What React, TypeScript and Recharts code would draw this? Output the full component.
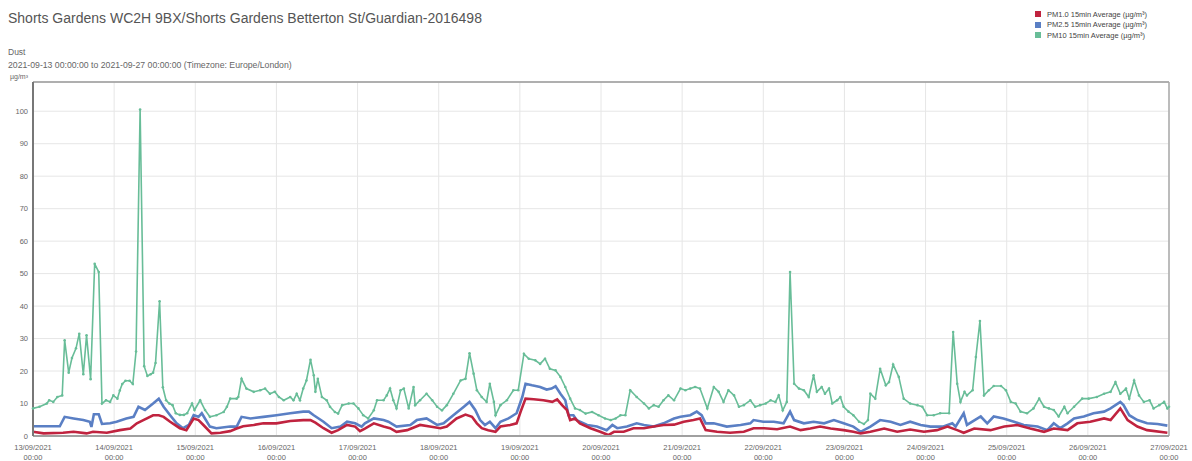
import React from "react";
import { LineChart, Line, XAxis, YAxis, CartesianGrid, ReferenceLine } from "recharts";

const TITLE = "Shorts Gardens WC2H 9BX/Shorts Gardens Betterton St/Guardian-2016498";
const SUBTITLE = "Dust";
const RANGE_TEXT = "2021-09-13 00:00:00 to 2021-09-27 00:00:00 (Timezone: Europe/London)";
const UNIT = "µg/m³";

const dayLabels = [
  "13/09/2021", "14/09/2021", "15/09/2021", "16/09/2021", "17/09/2021",
  "18/09/2021", "19/09/2021", "20/09/2021", "21/09/2021", "22/09/2021",
  "23/09/2021", "24/09/2021", "25/09/2021", "26/09/2021", "27/09/2021",
];
const timeLabel = "00:00";
const yTicks = [0, 10, 20, 30, 40, 50, 60, 70, 80, 90, 100];
const xTicks = dayLabels.map((_, i) => i);

const seriesNames = {
  pm1: "PM1.0 15min Average (µg/m³)",
  pm25: "PM2.5 15min Average (µg/m³)",
  pm10: "PM10 15min Average (µg/m³)",
};
const colors = { pm1: "#c0233f", pm25: "#5a7fc4", pm10: "#68bd98" };

// [day offset from 13/09/2021 00:00, value]
const pm10Readings: [number, number][] = [
  [0, 8.5], [0.08, 9], [0.17, 10], [0.2, 11], [0.25, 10.5], [0.3, 12], [0.36, 12.5], [0.39, 29.5],
  [0.44, 19.5], [0.48, 24], [0.53, 27], [0.57, 31.5], [0.62, 19], [0.66, 31], [0.71, 17.5], [0.76, 53],
  [0.81, 50.5], [0.85, 10], [0.9, 11], [0.95, 10.5], [0.99, 12.5], [1.04, 11.5], [1.07, 14], [1.1, 16],
  [1.14, 17], [1.19, 17], [1.23, 16], [1.27, 26], [1.32, 100.5], [1.37, 21.5], [1.41, 18.5], [1.45, 19],
  [1.48, 19.5], [1.51, 22.5], [1.56, 41.5], [1.6, 15], [1.64, 11], [1.68, 10], [1.72, 9.5], [1.76, 7],
  [1.81, 6.5], [1.86, 6.5], [1.9, 7], [1.96, 10], [1.99, 8], [2.06, 11], [2.12, 8], [2.18, 5.9],
  [2.26, 6.4], [2.35, 7.4], [2.39, 9], [2.43, 11.5], [2.51, 11.5], [2.53, 12], [2.57, 17.6], [2.63, 14.6],
  [2.72, 13.6], [2.8, 14.1], [2.86, 14.6], [2.92, 13], [2.98, 13.6], [3.03, 12], [3.09, 11], [3.17, 12],
  [3.21, 11], [3.25, 13], [3.29, 11], [3.33, 14.6], [3.37, 17.1], [3.42, 23.5], [3.46, 18.7], [3.48, 13.6],
  [3.51, 17.6], [3.56, 12], [3.62, 11], [3.66, 9], [3.72, 7.4], [3.76, 6.9], [3.81, 9.5], [3.89, 10],
  [3.95, 10], [4.01, 8.5], [4.07, 6.4], [4.13, 5.4], [4.2, 7.9], [4.24, 11], [4.32, 11], [4.36, 12.5],
  [4.4, 14.6], [4.44, 11], [4.48, 8.5], [4.53, 14.1], [4.57, 14.6], [4.63, 8.5], [4.69, 15.1], [4.71, 9.5],
  [4.77, 11], [4.85, 13], [4.92, 11], [4.98, 9], [5.04, 7.9], [5.1, 9.5], [5.18, 13], [5.27, 17.1],
  [5.33, 17.6], [5.38, 25.5], [5.43, 19.2], [5.47, 14.1], [5.53, 12], [5.59, 10.5], [5.63, 16.1], [5.68, 10.5],
  [5.7, 6.4], [5.76, 9.5], [5.84, 11], [5.92, 14.1], [5.98, 14.1], [6.05, 25.3], [6.11, 23.8], [6.19, 23.3],
  [6.25, 22.2], [6.31, 23.8], [6.37, 20.7], [6.44, 20.2], [6.5, 18.2], [6.56, 15.1], [6.62, 11.5], [6.68, 8.5],
  [6.74, 8], [6.81, 6.9], [6.89, 7.4], [6.97, 6.4], [7.05, 5.4], [7.12, 4.9], [7.18, 5.4], [7.24, 6.4],
  [7.3, 6.4], [7.36, 14.1], [7.44, 12], [7.53, 10], [7.59, 8.5], [7.65, 9.5], [7.71, 9], [7.77, 11],
  [7.83, 12.5], [7.9, 11], [7.98, 14.6], [8.04, 14.1], [8.1, 14.6], [8.16, 15.1], [8.22, 14.6], [8.31, 8.5],
  [8.39, 15.1], [8.45, 13.6], [8.51, 10.5], [8.57, 14.1], [8.64, 12.5], [8.7, 9], [8.76, 9.5], [8.84, 11],
  [8.9, 9], [8.96, 9.5], [9.03, 10], [9.09, 11], [9.15, 10.5], [9.19, 12.5], [9.24, 7.9], [9.29, 10.5],
  [9.33, 50.5], [9.38, 16.1], [9.44, 14.6], [9.5, 14.1], [9.56, 12], [9.62, 18.7], [9.66, 13.6], [9.72, 15.1],
  [9.76, 13], [9.81, 14.6], [9.85, 10], [9.91, 11], [9.95, 12], [9.99, 9], [10.05, 7.5], [10.11, 6.4],
  [10.18, 4.4], [10.24, 3.7], [10.29, 4.9], [10.32, 13], [10.38, 11.5], [10.44, 20.7], [10.51, 15.6], [10.55, 16.6],
  [10.6, 22], [10.67, 18.2], [10.73, 11.5], [10.81, 10], [10.9, 9.5], [10.96, 9], [11.02, 6.4], [11.1, 6.4],
  [11.18, 7], [11.29, 7], [11.34, 32], [11.39, 16.1], [11.43, 10.5], [11.48, 13.6], [11.51, 12.5], [11.58, 14.1],
  [11.62, 24.3], [11.67, 35.4], [11.72, 12.5], [11.78, 14.1], [11.84, 15.4], [11.93, 15.4], [11.99, 14.1], [12.05, 10.5],
  [12.11, 10], [12.17, 7.5], [12.25, 7], [12.33, 8.5], [12.4, 11.5], [12.46, 9], [12.52, 8.5], [12.58, 8],
  [12.64, 6], [12.71, 9], [12.75, 7], [12.83, 9], [12.93, 11.5], [13.01, 11.5], [13.11, 12], [13.2, 13],
  [13.28, 13.6], [13.34, 16.6], [13.4, 13], [13.47, 14.6], [13.51, 11.5], [13.57, 17.1], [13.63, 12.5], [13.69, 10.5],
  [13.76, 11], [13.81, 8.5], [13.88, 9.5], [13.94, 10.5], [13.98, 8.5], [14, 9],
];

const pm25Readings: [number, number][] = [
  [0, 3], [0.33, 3], [0.39, 5.9], [0.5, 5.4], [0.62, 4.9], [0.7, 4.4], [0.72, 2.8], [0.75, 6.7],
  [0.81, 6.7], [0.85, 3.7], [0.95, 3.9], [1.03, 4.4], [1.15, 5.4], [1.24, 5.9], [1.3, 9], [1.38, 8],
  [1.48, 10], [1.55, 11.5], [1.61, 9], [1.69, 6.4], [1.77, 3.9], [1.85, 2.4], [1.92, 3.4], [1.98, 6.4],
  [2.04, 5.9], [2.08, 7], [2.18, 2.9], [2.26, 2.4], [2.43, 2.9], [2.51, 2.9], [2.57, 5.9], [2.68, 5.4],
  [2.84, 5.9], [3.0, 6.4], [3.17, 7], [3.33, 7.5], [3.4, 7.5], [3.46, 6.4], [3.58, 4.4], [3.68, 2.4],
  [3.79, 2.9], [3.87, 4.4], [3.97, 3.9], [4.05, 2.9], [4.09, 3.9], [4.2, 5.4], [4.32, 4.9], [4.38, 4.4],
  [4.48, 2.9], [4.65, 3.4], [4.73, 4.9], [4.85, 5.4], [4.98, 3.4], [5.06, 3.9], [5.18, 6.4], [5.31, 9],
  [5.38, 10.5], [5.45, 8], [5.51, 4.9], [5.57, 3.4], [5.63, 4.4], [5.7, 2.4], [5.76, 4.4], [5.86, 5.4],
  [5.96, 7], [6.03, 12], [6.07, 16.1], [6.15, 15.6], [6.25, 15.1], [6.33, 14.3], [6.39, 14.6], [6.44, 15.3],
  [6.5, 13], [6.56, 11], [6.6, 6.4], [6.66, 6.4], [6.7, 4.9], [6.83, 3.4], [6.95, 2.9], [7.07, 1.8],
  [7.14, 3.4], [7.2, 2.4], [7.32, 2.9], [7.44, 3.9], [7.53, 3.4], [7.65, 2.9], [7.77, 3.9], [7.9, 5.4],
  [7.98, 5.9], [8.1, 6.4], [8.18, 7.5], [8.24, 6.4], [8.29, 3.9], [8.39, 3.9], [8.55, 2.9], [8.72, 3.4],
  [8.84, 3.9], [8.88, 4.9], [9.0, 4.4], [9.13, 4.4], [9.25, 3.9], [9.33, 7.5], [9.38, 4.9], [9.5, 3.9],
  [9.62, 4.4], [9.75, 3.9], [9.87, 4.9], [9.99, 3.9], [10.11, 2.9], [10.2, 1.3], [10.32, 2.9], [10.44, 4.9],
  [10.57, 4.4], [10.69, 3.4], [10.81, 4.4], [10.94, 3.4], [11.06, 2.9], [11.22, 2.9], [11.33, 3.9], [11.37, 2.9],
  [11.47, 7], [11.51, 3.4], [11.68, 6], [11.76, 3.9], [11.84, 6], [11.96, 5.4], [12.09, 4.4], [12.21, 3.4],
  [12.38, 2.9], [12.5, 1.8], [12.58, 3.9], [12.66, 2.4], [12.75, 3.9], [12.83, 5.4], [12.95, 6], [13.07, 7],
  [13.2, 7.5], [13.28, 8.5], [13.4, 10.5], [13.44, 9.5], [13.51, 6.4], [13.61, 4.9], [13.73, 3.9], [13.86, 3.7],
  [13.98, 3.2],
];

const pm1Readings: [number, number][] = [
  [0, 1.3], [0.13, 0.8], [0.37, 1], [0.5, 1.3], [0.66, 0.8], [0.74, 1.3], [0.91, 1], [1.07, 1.8],
  [1.2, 2.3], [1.28, 3.9], [1.36, 4.9], [1.48, 6.4], [1.55, 6.4], [1.61, 5.9], [1.69, 4.4], [1.81, 2.4],
  [1.89, 1.8], [1.98, 5.4], [2.04, 4.9], [2.1, 3.4], [2.2, 0.8], [2.31, 1], [2.43, 1.5], [2.51, 2.3],
  [2.59, 3], [2.72, 3.4], [2.84, 3.9], [3.0, 3.9], [3.17, 4.6], [3.33, 4.9], [3.42, 4.9], [3.48, 4.1],
  [3.58, 2.4], [3.68, 1], [3.76, 1.8], [3.87, 3.4], [3.97, 2.9], [4.03, 1.5], [4.09, 2.3], [4.2, 3.9],
  [4.32, 2.9], [4.4, 2.4], [4.48, 1.3], [4.61, 1.8], [4.77, 3.4], [4.89, 2.9], [5.02, 2.4], [5.1, 2.9],
  [5.22, 5.4], [5.33, 6.6], [5.41, 5.9], [5.47, 3.9], [5.53, 2.4], [5.61, 1.8], [5.7, 1.3], [5.76, 2.9],
  [5.88, 3.4], [5.96, 3.9], [6.01, 7.5], [6.07, 11.5], [6.17, 11.3], [6.29, 11], [6.4, 10.5], [6.46, 11.3],
  [6.52, 9.5], [6.58, 8], [6.62, 4.9], [6.68, 5.4], [6.74, 3.9], [6.87, 2.4], [6.99, 1.3], [7.09, 0.3],
  [7.16, 1.3], [7.28, 1.3], [7.4, 2.4], [7.53, 2.4], [7.65, 2.9], [7.77, 3.4], [7.9, 3.5], [8.02, 4.4],
  [8.14, 4.9], [8.22, 5.4], [8.29, 1.8], [8.43, 1.3], [8.59, 1], [8.76, 1.3], [8.88, 2.4], [9.01, 2.4],
  [9.17, 2.1], [9.33, 2.9], [9.46, 1.8], [9.58, 2.3], [9.7, 2.9], [9.83, 2.3], [9.99, 1.8], [10.11, 1.3],
  [10.2, 0.8], [10.32, 1.3], [10.49, 2.3], [10.65, 1.3], [10.81, 2], [10.98, 1.3], [11.14, 1.8], [11.27, 2.9],
  [11.39, 1.8], [11.47, 1], [11.6, 2.3], [11.8, 1.8], [11.97, 2.9], [12.13, 3.4], [12.29, 2.3], [12.46, 1.3],
  [12.58, 2.3], [12.75, 1.8], [12.87, 3.9], [13.03, 4.4], [13.2, 5.4], [13.28, 4.9], [13.4, 8.5], [13.49, 4.9],
  [13.61, 2.9], [13.73, 1.8], [13.98, 1],
];

const toRows = (r: [number, number][]) => r.map(([d, v]) => ({ d, v }));
const pm10Data = toRows(pm10Readings);
const pm25Data = toRows(pm25Readings);
const pm1Data = toRows(pm1Readings);

const FONT = "'Liberation Sans', Arial, sans-serif";

const XTick = (props: any) => {
  const { x, y, payload } = props;
  return (
    <g>
      <text x={x} y={y + 13.5} textAnchor="middle" fontSize={7.5} fill="#666" fontFamily={FONT}>
        {dayLabels[payload.value]}
      </text>
      <text x={x} y={y + 24} textAnchor="middle" fontSize={7.5} fill="#666" fontFamily={FONT}>
        {timeLabel}
      </text>
    </g>
  );
};

const YTick = (props: any) => {
  const { x, y, payload } = props;
  return (
    <text x={x} y={y + 2.6} textAnchor="end" fontSize={7.5} fill="#666" fontFamily={FONT}>
      {payload.value}
    </text>
  );
};

const GreenDot = (props: any) => {
  const { cx, cy } = props;
  return <circle cx={cx} cy={cy} r={1.3} fill={colors.pm10} stroke="none" />;
};

export default function App() {
  const legendItems = [
    { key: "pm1", name: seriesNames.pm1, color: colors.pm1 },
    { key: "pm25", name: seriesNames.pm25, color: colors.pm25 },
    { key: "pm10", name: seriesNames.pm10, color: colors.pm10 },
  ];
  return (
    <div style={{ position: "absolute", left: 0, top: 0, width: 1192, height: 461, background: "#fff", fontFamily: FONT }}>
      <div style={{ position: "absolute", left: 8, top: 10, fontSize: 14, color: "#555", whiteSpace: "nowrap" }}>{TITLE}</div>
      <div style={{ position: "absolute", left: 8, top: 47, fontSize: 8.5, color: "#666" }}>{SUBTITLE}</div>
      <div style={{ position: "absolute", left: 8, top: 60, fontSize: 8.7, color: "#666", whiteSpace: "nowrap" }}>{RANGE_TEXT}</div>
      <div style={{ position: "absolute", left: 10, top: 73, fontSize: 7, color: "#666" }}>{UNIT}</div>
      <div style={{ position: "absolute", left: 1035, top: 9 }}>
        {legendItems.map((it) => (
          <div key={it.key} style={{ display: "flex", alignItems: "center", height: 10.5, fontSize: 7.5, color: "#444", whiteSpace: "nowrap" }}>
            <span style={{ display: "inline-block", width: 6, height: 6, background: it.color, marginRight: 6 }} />
            {it.name}
          </div>
        ))}
      </div>
      <LineChart width={1192} height={461} margin={{ top: 82, right: 23, bottom: 0, left: 0 }} style={{ position: "absolute", left: 0, top: 0 }}>
        <CartesianGrid stroke="#e6e6e6" strokeWidth={1} />
        <XAxis
          type="number"
          dataKey="d"
          domain={[0, 14]}
          ticks={xTicks}
          height={25}
          tickSize={0}
          tickMargin={0}
          tick={<XTick />}
          axisLine={{ stroke: "#a0a0a0", strokeWidth: 2 }}
          tickLine={false}
          interval={0}
        />
        <YAxis
          type="number"
          dataKey="v"
          domain={[0, 109]}
          ticks={yTicks}
          width={33}
          tickSize={0}
          tickMargin={5}
          tick={<YTick />}
          axisLine={{ stroke: "#777", strokeWidth: 2 }}
          tickLine={false}
          interval={0}
        />
        <ReferenceLine y={109} stroke="#999" strokeWidth={1.5} />
        <ReferenceLine x={14} stroke="#aaa" strokeWidth={1.5} />
        <Line data={pm10Data} dataKey="v" name={seriesNames.pm10} type="linear" stroke={colors.pm10} strokeWidth={1.6} dot={<GreenDot />} isAnimationActive={false} />
        <Line data={pm25Data} dataKey="v" name={seriesNames.pm25} type="linear" stroke={colors.pm25} strokeWidth={2.6} dot={false} isAnimationActive={false} />
        <Line data={pm1Data} dataKey="v" name={seriesNames.pm1} type="linear" stroke={colors.pm1} strokeWidth={2.6} dot={false} isAnimationActive={false} />
      </LineChart>
    </div>
  );
}
